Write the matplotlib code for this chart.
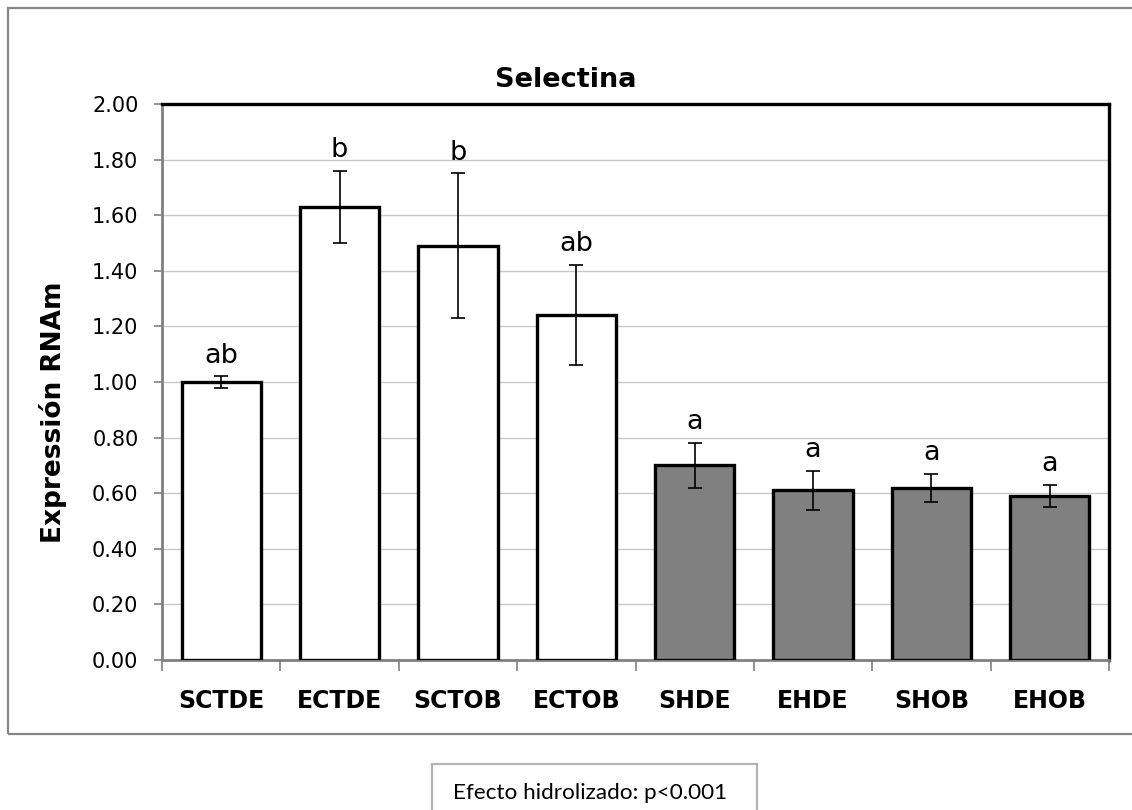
import matplotlib.pyplot as plt
from matplotlib.patches import Rectangle
from matplotlib.ticker import FixedLocator, MultipleLocator

# =========================
# DATA
# =========================
groups = ["SCTDE", "ECTDE", "SCTOB", "ECTOB", "SHDE", "EHDE", "SHOB", "EHOB"]
means = [1.00, 1.63, 1.49, 1.24, 0.70, 0.61, 0.62, 0.59]
errors = [0.02, 0.13, 0.26, 0.18, 0.08, 0.07, 0.05, 0.04]
letters = ["ab", "b", "b", "ab", "a", "a", "a", "a"]
hydrolysate = [False, False, False, False, True, True, True, True]

W, H = 1132, 810
fig = plt.figure(figsize=(W / 100, H / 100), dpi=100)

# outer chart border
fig.add_artist(Rectangle((8 / W, 1 - 734 / H), (1140 - 8) / W, (734 - 8) / H,
                         transform=fig.transFigure, fill=False,
                         edgecolor="#868686", linewidth=1.6))

ax = fig.add_axes([162 / W, 1 - 660 / H, (1109 - 162) / W, (660 - 104) / H])

x = list(range(len(groups)))
colors = ["#808080" if h else "white" for h in hydrolysate]

ax.bar(x, means, width=0.67, color=colors, edgecolor="black", linewidth=2.4,
       zorder=3)
ax.errorbar(x, means, yerr=errors, fmt="none", ecolor="black",
            elinewidth=1.2, capsize=5, capthick=1.2, zorder=4)

for xi, m, e, lab in zip(x, means, errors, letters):
    ax.annotate(lab, (xi, m + e), xytext=(0, 10), textcoords="offset points",
                ha="center", va="baseline", fontsize=19.5, family="DejaVu Sans")

ax.set_xlim(-0.5, len(groups) - 0.5)
ax.set_ylim(0, 2.0)
ax.yaxis.set_major_locator(MultipleLocator(0.2))
ax.set_yticklabels([f"{v:.2f}" for v in ax.get_yticks()])
ax.grid(axis="y", color="#c8c8c8", linewidth=1.0, zorder=0)
ax.set_axisbelow(True)

ax.set_xticks(x)
ax.set_xticklabels(groups, fontsize=17, fontweight="bold",
                   family="DejaVu Sans")
ax.xaxis.set_minor_locator(FixedLocator([i + 0.5 for i in range(-1, len(groups))]))
ax.tick_params(axis="x", which="major", length=0, pad=21)
ax.tick_params(axis="x", which="minor", length=8, width=1.2, color="#808080",
               direction="out")
ax.tick_params(axis="y", length=6, width=1.2, color="#808080", pad=11,
               labelsize=15)

for side in ["left", "bottom"]:
    ax.spines[side].set_color("#808080")
    ax.spines[side].set_linewidth(2)
for side in ["top", "right"]:
    ax.spines[side].set_color("black")
    ax.spines[side].set_linewidth(2.4)

fig.text(566 / W, 1 - 80 / H, "Selectina", ha="center", va="center",
         fontsize=19.5, fontweight="bold", family="DejaVu Sans")
fig.text(53 / W, 1 - 412 / H, "Expressión RNAm", ha="center", va="center",
         rotation=90, fontsize=19, fontweight="bold", family="DejaVu Sans")

# note box
fig.add_artist(Rectangle((432 / W, -0.05), (757 - 432) / W, 0.05 + (810 - 764) / H,
                         transform=fig.transFigure, fill=False,
                         edgecolor="#b4b4b4", linewidth=1.6))
fig.text(453 / W, 1 - 793 / H, "Efecto hidrolizado: p<0.001", ha="left",
         va="center", fontsize=16.2, family="Lato")

fig.savefig("out.png", dpi=100)
